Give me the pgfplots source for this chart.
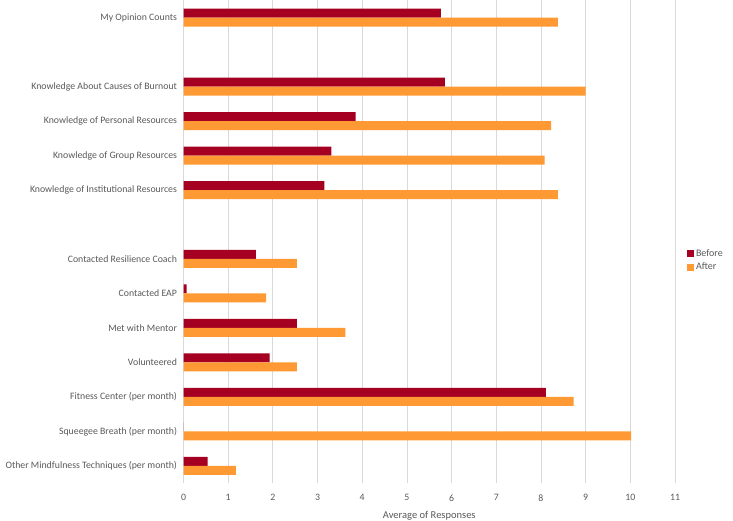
\documentclass[border=0pt]{standalone}
\usepackage{pgfplots}
\pgfplotsset{compat=1.18}
\usepackage{fontspec}
\setmainfont{Carlito}
\definecolor{before}{HTML}{A50021}
\definecolor{after}{HTML}{FF9933}
\definecolor{txt}{HTML}{595959}
\definecolor{grd}{HTML}{D9D9D9}
\begin{document}
\begin{tikzpicture}
\path[use as bounding box] (0,0) rectangle (733pt,520pt);
\begin{axis}[
  at={(183.5pt,37pt)}, anchor=south west,
  scale only axis, width=491.5pt, height=482.5pt,
  xbar, bar width=9pt,
  xmin=0, xmax=11, ymin=-0.5, ymax=13.5,
  xtick={0,1,...,11},
  ytick={0,1,2,3,4,5,6,8,9,10,11,13},
  yticklabels={Other Mindfulness Techniques (per month),Squeegee Breath (per month),Fitness Center (per month),Volunteered,Met with Mentor,Contacted EAP,Contacted Resilience Coach,Knowledge of Institutional Resources,Knowledge of Group Resources,Knowledge of Personal Resources,Knowledge About Causes of Burnout,My Opinion Counts},
  xmajorgrids, major grid style={grd, line width=0.8pt},
  axis line style={draw=none},
  major tick length=0pt,
  tick label style={font=\fontsize{9.8}{11}\selectfont, text=txt},
  /pgf/number format/assume math mode=true,
  yticklabel style={xshift=-3pt},
  xticklabel style={yshift=-8pt},
  xlabel={Average of Responses},
  xlabel style={font=\fontsize{10.5}{12}\selectfont, text=txt, yshift=-3pt},
  legend style={at={(1.022,0.49)}, anchor=north west, draw=none, fill=none,
    font=\fontsize{10}{12}\selectfont, text=txt, row sep=1pt, inner sep=1pt},
  legend cell align=left,
  legend image code/.code={\fill[#1] (0pt,-3.5pt) rectangle (7pt,3.5pt);},
]
\addplot[fill=before, draw=none, bar shift=4.5pt] coordinates {
  (0.54,0) (0,1) (8.11,2) (1.93,3) (2.54,4) (0.07,5) (1.62,6)
  (3.15,8) (3.31,9) (3.85,10) (5.85,11) (5.76,13)};
\addlegendentry{Before}
\addplot[fill=after, draw=none, bar shift=-4.5pt] coordinates {
  (1.17,0) (10.02,1) (8.73,2) (2.54,3) (3.62,4) (1.85,5) (2.54,6)
  (8.38,8) (8.08,9) (8.23,10) (9.0,11) (8.38,13)};
\addlegendentry{After}
\end{axis}
\end{tikzpicture}
\end{document}
